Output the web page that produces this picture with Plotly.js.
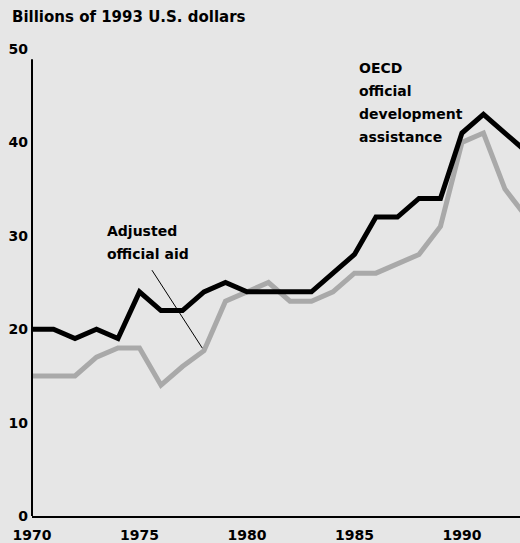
<!DOCTYPE html>
<html>
<head>
<meta charset="utf-8">
<script src="https://cdn.plot.ly/plotly-3.0.1.min.js"></script>
<style>html,body{margin:0;padding:0;background:#e6e6e6;}#chart{width:520px;height:543px;}</style>
</head>
<body>
<div id="chart"></div>
<script>
// Data (billions of 1993 U.S. dollars)
const years = [1970,1971,1972,1973,1974,1975,1976,1977,1978,1979,1980,1981,1982,1983,1984,1985,1986,1987,1988,1989,1990,1991,1992,1993];
const oecdODA = [20,20,19,20,19,24,22,22,24,25,24,24,24,24,26,28,32,32,34,34,41,43,41,39];
const adjustedAid = [15,15,15,17,18,18,14,16,17.7,23,24,25,23,23,24,26,26,27,28,31,40,41,35,32];
const yTicks = [0,10,20,30,40,50];
const xTicks = [1970,1975,1980,1985,1990];

const FONT = 'DejaVu Sans, sans-serif';
const b = s => '<b>' + s + '</b>';

const traces = [
  {x: years, y: adjustedAid, type: 'scatter', mode: 'lines', line: {color: '#a9a9a9', width: 5}, hoverinfo: 'skip'},
  {x: years, y: oecdODA, type: 'scatter', mode: 'lines', line: {color: '#000000', width: 5}, hoverinfo: 'skip'}
];

function label(text, x, y) {
  return {text: b(text), x: x, y: y, xref: 'x', yref: 'y', xanchor: 'left', yanchor: 'middle', showarrow: false,
          font: {family: FONT, size: 14, color: '#000'}};
}

const pxX = v => 1970 + (v - 32) / 21.5;
const pxY = v => (516 - v) / 9.35;

const layout = {
  width: 520, height: 543,
  paper_bgcolor: '#e6e6e6', plot_bgcolor: '#e6e6e6',
  margin: {l: 32, r: 0, t: 49, b: 27},
  showlegend: false,
  font: {family: FONT, size: 14, color: '#000'},
  title: {text: b('Billions of 1993 U.S. dollars'), x: 0, xref: 'paper', xanchor: 'left', y: 1, yref: 'container', yanchor: 'top',
          pad: {t: 11, l: -20}, font: {family: FONT, size: 15, color: '#000'}},
  xaxis: {range: [1970, 1992.7], tickvals: xTicks, ticktext: xTicks.map(v => b(v)), showgrid: false, zeroline: false,
          showline: true, linecolor: '#000', linewidth: 2, ticks: '', ticklabelstandoff: 5,
          tickfont: {family: FONT, size: 14, color: '#000'}, fixedrange: true},
  yaxis: {range: [0, 50], tickvals: yTicks, ticktext: yTicks.map(v => b(v)), showgrid: false, zeroline: false,
          showline: false, ticks: '', ticklabelstandoff: 3,
          tickfont: {family: FONT, size: 14, color: '#000'}, fixedrange: true},
  shapes: [
    {type: 'line', xref: 'paper', yref: 'y', x0: 0, x1: 0, y0: 0, y1: 48.9, line: {color: '#000', width: 2}}
  ],
  annotations: [
    label('OECD', pxX(357), pxY(68)),
    label('official', pxX(357), pxY(91)),
    label('development', pxX(357), pxY(114)),
    label('assistance', pxX(357), pxY(137)),
    label('Adjusted', pxX(105), pxY(231)),
    label('official aid', pxX(105), pxY(254)),
    {text: '', x: years[8], y: adjustedAid[8], xref: 'x', yref: 'y', ax: -53, ay: -82, axref: 'pixel', ayref: 'pixel',
     showarrow: true, arrowhead: 0, arrowwidth: 1, arrowcolor: '#000', standoff: 3}
  ]
};

Plotly.newPlot('chart', traces, layout, {displayModeBar: false, staticPlot: true});
</script>
</body>
</html>
